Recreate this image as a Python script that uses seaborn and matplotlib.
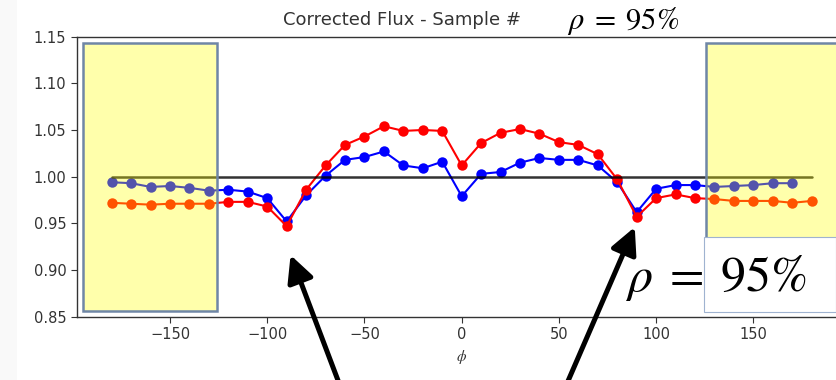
import matplotlib
matplotlib.use("Agg")
import matplotlib.pyplot as plt
import matplotlib.patches as mpatches
import seaborn as sns
import pandas as pd

# angles (deg) and corrected flux
phi_blue = [-180, -170, -160, -150, -140, -130, -120, -110, -100, -90,
            -80, -70, -60, -50, -40, -30, -20, -10, 0, 10,
            20, 30, 40, 50, 60, 70, 80, 90, 100, 110,
            120, 130, 140, 150, 160, 170]
flux_blue = [0.994, 0.993, 0.989, 0.990, 0.988, 0.985, 0.986, 0.984, 0.977, 0.952,
             0.980, 1.001, 1.018, 1.021, 1.027, 1.012, 1.009, 1.016, 0.979, 1.003,
             1.005, 1.015, 1.020, 1.018, 1.018, 1.012, 0.994, 0.962, 0.987, 0.991,
             0.991, 0.989, 0.990, 0.991, 0.993, 0.993]

phi_red = [-180, -170, -160, -150, -140, -130, -120, -110, -100, -90,
           -80, -70, -60, -50, -40, -30, -20, -10, 0, 10,
           20, 30, 40, 50, 60, 70, 80, 90, 100, 110,
           120, 130, 140, 150, 160, 170, 180]
flux_red = [0.972, 0.971, 0.970, 0.971, 0.971, 0.971, 0.973, 0.973, 0.968, 0.947,
            0.986, 1.012, 1.034, 1.043, 1.054, 1.049, 1.050, 1.049, 1.012, 1.036,
            1.047, 1.051, 1.046, 1.037, 1.034, 1.024, 0.997, 0.957, 0.977, 0.981,
            0.977, 0.976, 0.974, 0.974, 0.974, 0.972, 0.974]

ref_phi = [-180, 180]
ref_flux = [1.0, 1.0]

title_text = "Corrected Flux - Sample #"
rho_text = r"$\rho\;=\;95\%$"
y_ticks = [0.85, 0.90, 0.95, 1.00, 1.05, 1.10, 1.15]
x_ticks = [-150, -100, -50, 0, 50, 100, 150]

sns.set_theme(style="ticks")
plt.rcParams["font.family"] = ["DejaVu Sans"]
plt.rcParams["mathtext.fontset"] = "stix"

df_blue = pd.DataFrame({"phi": phi_blue, "flux": flux_blue})
df_red = pd.DataFrame({"phi": phi_red, "flux": flux_red})

fig = plt.figure(figsize=(8.37, 3.8), dpi=100)
fig.patches.append(mpatches.Rectangle((0, 0), 17 / 837, 1, transform=fig.transFigure,
                                      facecolor="#f9f9f9", edgecolor="none", zorder=0))
ax = fig.add_axes([0.0916, 0.1666, 0.92, 0.737])

sns.lineplot(data=df_blue, x="phi", y="flux", ax=ax, color="blue", marker="o",
             markersize=7.5, markeredgewidth=0, linewidth=1.5)
sns.lineplot(data=df_red, x="phi", y="flux", ax=ax, color="red", marker="o",
             markersize=7.5, markeredgewidth=0, linewidth=1.5)
ax.plot(ref_phi, ref_flux, color="black", alpha=0.8, linewidth=1.8)

ax.set_xlim(-198, 198)
ax.set_ylim(0.85, 1.15)
ax.set_xticks(x_ticks)
ax.set_yticks(y_ticks)
ax.set_yticklabels([f"{v:.2f}" for v in y_ticks])
ax.tick_params(labelsize=10.5, colors="#333333", length=4, width=0.8)
for s in ax.spines.values():
    s.set_color("#333333")
    s.set_linewidth(1.0)
ax.set_xlabel(r"$\phi$", fontsize=11, color="#333333", labelpad=4)
ax.set_ylabel("")

# yellow masks over the edges
for x0, w in [(-195, 69), (125.5, 75)]:
    ax.add_patch(mpatches.Rectangle((x0, 0.856), w, 0.287, facecolor="yellow",
                                    alpha=0.33, edgecolor="none", zorder=5))
    ax.add_patch(mpatches.Rectangle((x0, 0.856), w, 0.287, facecolor="none",
                                    edgecolor="#6f86a6", linewidth=1.8, zorder=6,
                                    clip_on=False))

fig.text(283 / 837, 1 - 20 / 380, title_text, fontsize=13, color="#333333",
         ha="left", va="center")
fig.text(623 / 837, 1 - 21 / 380, rho_text, fontsize=22, color="black",
         ha="center", va="center")

# white label box lower right
fig.patches.append(mpatches.Rectangle((704 / 837, 1 - 311.5 / 380), 132 / 837, 74.5 / 380,
                                      transform=fig.transFigure, facecolor="white",
                                      edgecolor="#9fb3d0", linewidth=0.8, zorder=10))
fig.text(716 / 837, 1 - 278 / 380, rho_text, fontsize=36, color="black",
         ha="center", va="center", zorder=11)

# arrows pointing to the dips
for tip, tail in [((-88, 0.916), (340 / 837, -0.015)), ((89, 0.946), (566 / 837, -0.015))]:
    ax.annotate("", xy=tip, xycoords="data", xytext=tail, textcoords="figure fraction",
                annotation_clip=False,
                arrowprops=dict(arrowstyle="-|>", color="black", lw=3.6,
                                mutation_scale=40, shrinkA=0, shrinkB=0))

fig.savefig("out.png", dpi=100)
